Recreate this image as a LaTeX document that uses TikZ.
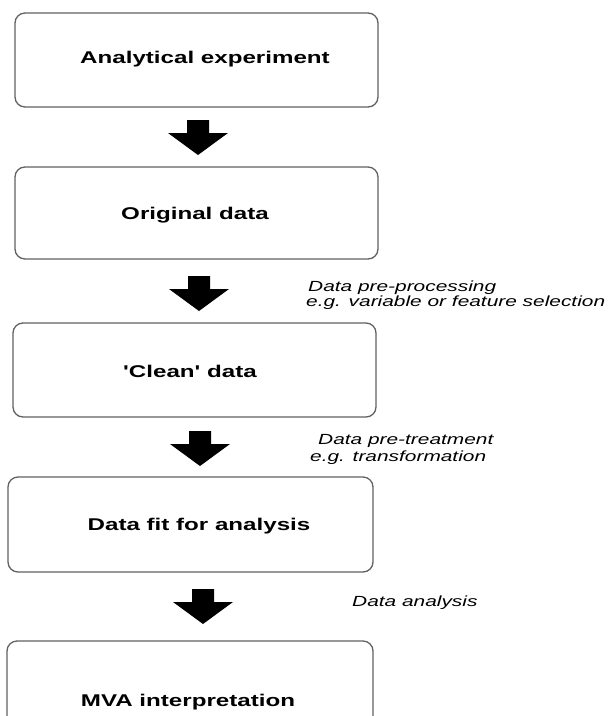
\documentclass[tikz,border=0pt]{standalone}
\usepackage{fontspec}
\setmainfont{Liberation Sans}[FakeStretch=1.42, Ligatures=TeXOff]
\begin{document}
\begin{tikzpicture}[x=1pt,y=-1pt,
  stagebox/.style={draw=black!62, line width=1.3pt, rounded corners=10pt,
    fill=white, inner sep=0pt, outer sep=0pt},
  stagetext/.style={anchor=base, inner sep=0pt, font=\fontsize{17}{20}\selectfont\bfseries},
  note/.style={anchor=base west, inner sep=0pt, font=\fontsize{14.7}{17}\selectfont\itshape},
  blockarrow/.pic={
    \fill[black] (-11,0) -- (11,0) -- (11,13) -- (30,13) -- (0,35)
      -- (-30,13) -- (-11,13) -- cycle;}]
\useasboundingbox (0,0) rectangle (615,716);
\clip (0,0) rectangle (615,716);

% stage boxes
\node[stagebox, minimum width=363pt, minimum height=94pt] (b1) at (196.5,60) {};
\node[stagebox, minimum width=363pt, minimum height=92pt] (b2) at (196.5,213) {};
\node[stagebox, minimum width=363pt, minimum height=94pt] (b3) at (194.5,370) {};
\node[stagebox, minimum width=365pt, minimum height=95pt] (b4) at (190.5,524.5) {};
\node[stagebox, minimum width=366pt, minimum height=140pt] (b5) at (190,711) {};

% stage labels
\node[stagetext] (t1) at (205,63) {Analytical experiment};
\node[stagetext] (t2) at (195,219) {Original data};
\node[stagetext] (t3) at (190,377) {'Clean' data};
\node[stagetext] (t4) at (199,530) {Data fit for analysis};
\node[stagetext] (t5) at (188,706) {MVA interpretation};

% block arrows between the stages
\coordinate (a1) at (198,120);
\coordinate (a2) at (199,276);
\coordinate (a3) at (200,431);
\coordinate (a4) at (203,589);
\pic at (a1) {blockarrow};
\pic at (a2) {blockarrow};
\pic at (a3) {blockarrow};
\pic at (a4) {blockarrow};

% step annotations
\node[note] (n1) at (308,291) {Data pre-processing};
\node[note] (n1b) at (306,306) {e.g. variable or feature selection};
\node[note] (n2) at (318,444) {Data pre-treatment};
\node[note] (n2b) at (310,461) {e.g. transformation};
\node[note] (n3) at (352,606) {Data analysis};
\end{tikzpicture}
\end{document}
